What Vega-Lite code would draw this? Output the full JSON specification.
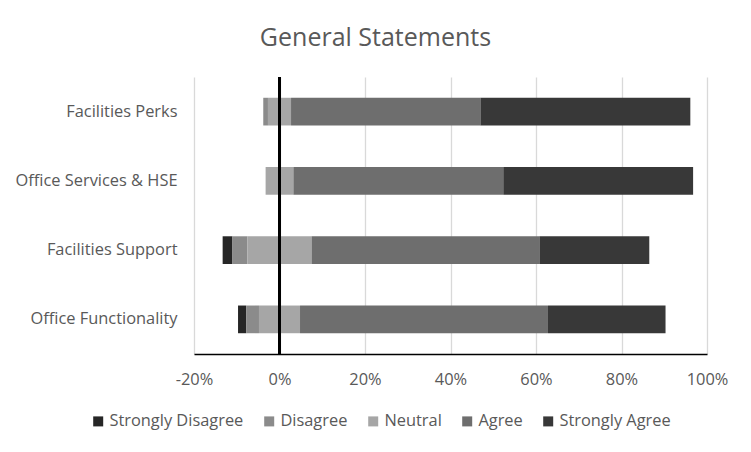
{
  "$schema": "https://vega.github.io/schema/vega-lite/v6.json",
  "width": 513,
  "height": 277,
  "autosize": {"type": "none"},
  "padding": {"left": 194, "top": 77, "right": 44, "bottom": 98},
  "background": "white",
  "title": {
    "text": "General Statements",
    "fontSize": 25,
    "font": "Open Sans",
    "fontWeight": "normal",
    "color": "#595959",
    "dx": -75,
    "offset": 25
  },
  "data": {
    "values": [
      {"statement": "Facilities Perks", "response": "Disagree", "rank": 1, "share": -0.011},
      {"statement": "Facilities Perks", "response": "Neutral", "rank": 0, "share": -0.027},
      {"statement": "Facilities Perks", "response": "Neutral", "rank": 0, "share": 0.027},
      {"statement": "Facilities Perks", "response": "Agree", "rank": 1, "share": 0.443},
      {"statement": "Facilities Perks", "response": "Strongly Agree", "rank": 2, "share": 0.491},
      {"statement": "Office Services & HSE", "response": "Neutral", "rank": 0, "share": -0.0325},
      {"statement": "Office Services & HSE", "response": "Neutral", "rank": 0, "share": 0.0325},
      {"statement": "Office Services & HSE", "response": "Agree", "rank": 1, "share": 0.491},
      {"statement": "Office Services & HSE", "response": "Strongly Agree", "rank": 2, "share": 0.444},
      {"statement": "Facilities Support", "response": "Strongly Disagree", "rank": 2, "share": -0.023},
      {"statement": "Facilities Support", "response": "Disagree", "rank": 1, "share": -0.035},
      {"statement": "Facilities Support", "response": "Neutral", "rank": 0, "share": -0.075},
      {"statement": "Facilities Support", "response": "Neutral", "rank": 0, "share": 0.075},
      {"statement": "Facilities Support", "response": "Agree", "rank": 1, "share": 0.533},
      {"statement": "Facilities Support", "response": "Strongly Agree", "rank": 2, "share": 0.257},
      {"statement": "Office Functionality", "response": "Strongly Disagree", "rank": 2, "share": -0.019},
      {"statement": "Office Functionality", "response": "Disagree", "rank": 1, "share": -0.030},
      {"statement": "Office Functionality", "response": "Neutral", "rank": 0, "share": -0.048},
      {"statement": "Office Functionality", "response": "Neutral", "rank": 0, "share": 0.048},
      {"statement": "Office Functionality", "response": "Agree", "rank": 1, "share": 0.580},
      {"statement": "Office Functionality", "response": "Strongly Agree", "rank": 2, "share": 0.275}
    ]
  },
  "layer": [
    {
      "mark": {"type": "bar"},
      "encoding": {
        "y": {
          "field": "statement",
          "type": "nominal",
          "sort": ["Facilities Perks", "Office Services & HSE", "Facilities Support", "Office Functionality"],
          "scale": {"paddingInner": 0.6, "paddingOuter": 0.3},
          "axis": {
            "title": null,
            "domain": false,
            "ticks": false,
            "labelFontSize": 16.4,
            "labelFont": "Open Sans",
            "labelColor": "#595959",
            "labelPadding": 17
          }
        },
        "x": {
          "field": "share",
          "type": "quantitative",
          "stack": "zero",
          "scale": {"domain": [-0.2, 1.0], "nice": false},
          "axis": {
            "title": null,
            "format": ".0%",
            "labelExpr": "replace(datum.label, '\u2212', '-')",
            "values": [-0.2, 0, 0.2, 0.4, 0.6, 0.8, 1.0],
            "grid": true,
            "gridColor": "#d9d9d9",
            "gridWidth": 1.3,
            "domain": true,
            "domainColor": "#000000",
            "domainWidth": 1.5,
            "ticks": false,
            "labelFlush": false,
            "labelFontSize": 16.4,
            "labelFont": "Open Sans",
            "labelColor": "#595959",
            "labelPadding": 17
          }
        },
        "order": {"field": "rank", "type": "quantitative", "sort": "ascending"},
        "color": {
          "field": "response",
          "type": "nominal",
          "scale": {
            "domain": ["Strongly Disagree", "Disagree", "Neutral", "Agree", "Strongly Agree"],
            "range": ["#262626", "#8b8b8b", "#a6a6a6", "#6e6e6e", "#383838"]
          },
          "legend": {
            "title": null,
            "orient": "none",
            "legendX": -104,
            "legendY": 336,
            "direction": "horizontal",
            "symbolType": "square",
            "symbolSize": 100,
            "symbolStrokeWidth": 0,
            "labelFontSize": 16.4,
            "labelFont": "Open Sans",
            "labelColor": "#595959",
            "labelOffset": 3,
            "columnPadding": 17
          }
        }
      }
    },
    {
      "mark": {"type": "rule", "color": "#000000", "strokeWidth": 2},
      "encoding": {"x": {"datum": 0, "type": "quantitative"}}
    }
  ],
  "config": {"view": {"stroke": null}}
}
